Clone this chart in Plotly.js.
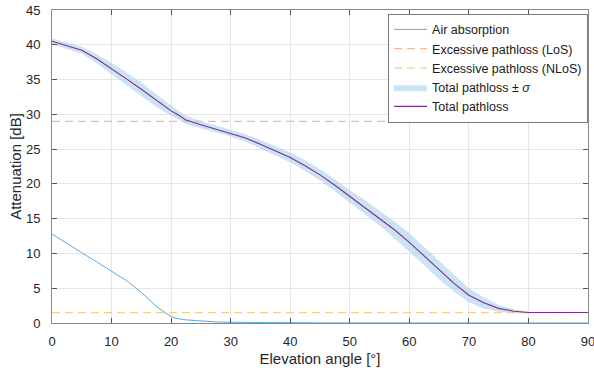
<!DOCTYPE html>
<html>
<head>
<meta charset="utf-8">
<script src="https://cdn.plot.ly/plotly-3.0.1.min.js"></script>
<style>
  html, body { margin: 0; padding: 0; background: #ffffff; }
  #chart { width: 594px; height: 374px; }
</style>
</head>
<body>
<div id="chart"></div>
<script>
// Elevation angles [deg]
const elevation = [0, 2.5, 5, 7.5, 10, 12.5, 15, 17.5, 20, 21, 22.5, 25, 27.5, 30, 32.5, 35, 37.5, 40,
  42.5, 45, 47.5, 50, 52.5, 55, 57.5, 60, 62.5, 65, 67.5, 70, 72.5, 75, 77.5, 80, 82.5, 85, 87.5, 90];

// Total pathloss [dB]
const totalPathloss = [40.5, 39.9, 39.2, 38.0, 36.6, 35.1, 33.6, 32.0, 30.5, 30.0, 29.2, 28.5, 27.9,
  27.3, 26.6, 25.7, 24.8, 23.8, 22.6, 21.3, 19.8, 18.2, 16.7, 15.1, 13.4, 11.6, 9.6, 7.6, 5.7, 4.0,
  2.9, 2.1, 1.7, 1.5, 1.5, 1.5, 1.5, 1.5];

// Standard deviation of the total pathloss [dB]
const sigma = [0.4, 0.45, 0.5, 0.65, 0.8, 0.9, 1.0, 0.9, 0.7, 0.65, 0.6, 0.5, 0.5, 0.5, 0.55, 0.6,
  0.65, 0.7, 0.75, 0.8, 0.85, 0.9, 1.0, 1.1, 1.2, 1.3, 1.3, 1.3, 1.2, 1.0, 0.8, 0.5, 0.3, 0.1, 0.05,
  0, 0, 0];

// Atmospheric absorption [dB]
const airAbsorption = [12.8, 11.4, 10.1, 8.8, 7.5, 6.1, 4.4, 2.4, 0.9, 0.65, 0.45, 0.25, 0.15, 0.1,
  0.07, 0.05, 0.04, 0.03, 0.02, 0.015, 0.01, 0.01, 0.005, 0, 0, 0, 0, 0, 0, 0, 0, 0, 0, 0, 0, 0, 0, 0];

// Excess pathloss levels [dB]
const excessRange = [0, 90];
const excessLoS = [29, 29];
const excessNLoS = [1.5, 1.5];

const xTicks = [0, 10, 20, 30, 40, 50, 60, 70, 80, 90];
const yTicks = [0, 5, 10, 15, 20, 25, 30, 35, 40, 45];

const upperBand = totalPathloss.map((v, i) => v + sigma[i]);
const lowerBand = totalPathloss.map((v, i) => v - sigma[i]);

const traces = [
  {
    x: elevation, y: lowerBand, type: 'scatter', mode: 'lines',
    line: { width: 0, color: 'rgba(0,0,0,0)' },
    showlegend: false, hoverinfo: 'skip'
  },
  {
    x: elevation, y: upperBand, type: 'scatter', mode: 'lines',
    fill: 'tonexty', fillcolor: 'rgba(165,206,234,0.58)',
    line: { width: 0, color: 'rgba(0,0,0,0)' },
    name: 'Total pathloss \u00b1 <i>\u03c3</i>', legendrank: 4
  },
  {
    x: elevation, y: airAbsorption, type: 'scatter', mode: 'lines',
    line: { color: '#5ea9dd', width: 1 },
    name: 'Air absorption', legendrank: 1
  },
  {
    x: excessRange, y: excessLoS, type: 'scatter', mode: 'lines',
    line: { color: '#f4b89e', width: 1.2, dash: '8px,5px' },
    name: 'Excessive pathloss (LoS)', legendrank: 2
  },
  {
    x: excessRange, y: excessNLoS, type: 'scatter', mode: 'lines',
    line: { color: '#f3d287', width: 1.2, dash: '8px,5px' },
    name: 'Excessive pathloss (NLoS)', legendrank: 3
  },
  {
    x: elevation, y: totalPathloss, type: 'scatter', mode: 'lines',
    line: { color: '#7e2f8e', width: 1.1 },
    name: 'Total pathloss', legendrank: 5
  }
];

const axisCommon = {
  showline: true, linecolor: '#8a8a8a', linewidth: 1, mirror: 'ticks',
  ticks: 'inside', ticklen: 5, tickcolor: '#555555', tickwidth: 1,
  showgrid: true, gridcolor: '#e6e6e6', gridwidth: 1,
  zeroline: false,
  tickfont: { family: 'Liberation Sans, Arial, sans-serif', size: 13, color: '#262626' }
};

const layout = {
  width: 594, height: 374,
  margin: { l: 52, r: 6, t: 10, b: 51 },
  paper_bgcolor: '#ffffff', plot_bgcolor: '#ffffff',
  font: { family: 'Liberation Sans, Arial, sans-serif', color: '#262626' },
  xaxis: Object.assign({}, axisCommon, {
    range: [0, 90], tickvals: xTicks, ticktext: xTicks.map(String),
    ticklabelstandoff: 6, ticklabeloverflow: 'allow',
    title: { text: 'Elevation angle [\u00b0]', font: { size: 15, color: '#262626' }, standoff: 5 }
  }),
  yaxis: Object.assign({}, axisCommon, {
    range: [0, 45], tickvals: yTicks, ticktext: yTicks.map(String),
    ticklabelstandoff: 8,
    title: { text: 'Attenuation [dB]', font: { size: 15, color: '#262626' }, standoff: 0 }
  }),
  legend: {
    x: 0.627, y: 0.988, xanchor: 'left', yanchor: 'top',
    bgcolor: '#ffffff', bordercolor: '#7a7a7a', borderwidth: 1,
    font: { size: 12.5, color: '#1a1a1a' },
    itemwidth: 33, traceorder: 'normal'
  },
  showlegend: true
};

Plotly.newPlot('chart', traces, layout, { displayModeBar: false, staticPlot: true });
</script>
</body>
</html>
